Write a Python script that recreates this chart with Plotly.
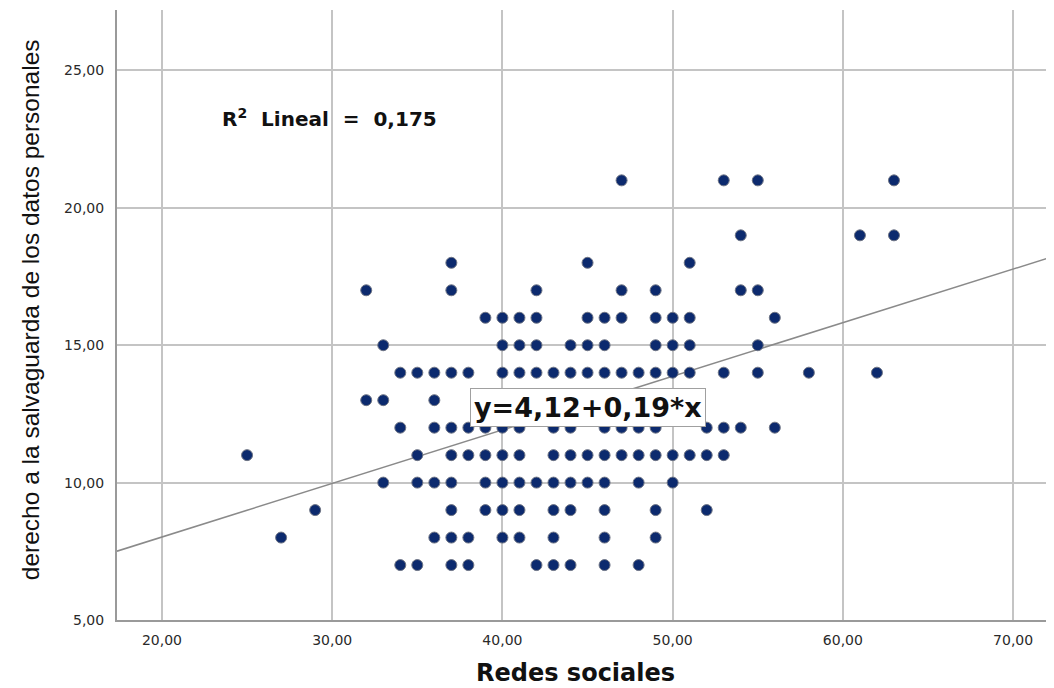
import plotly.graph_objects as go

# Data: each row is a y value, with the x values (Redes sociales) observed at that y
y_levels = [7, 8, 9, 10, 11, 12, 13, 14, 15, 16, 17, 18, 19, 21]
x_at_7 = [34, 35, 37, 38, 42, 43, 44, 46, 48]
x_at_8 = [27, 36, 37, 38, 40, 41, 43, 46, 49]
x_at_9 = [29, 37, 39, 40, 41, 43, 44, 46, 49, 52]
x_at_10 = [33, 35, 36, 37, 39, 40, 41, 42, 43, 44, 45, 46, 48, 50]
x_at_11 = [25, 35, 37, 38, 39, 40, 41, 43, 44, 45, 46, 47, 48, 49, 50, 51, 52, 53]
x_at_12 = [34, 36, 37, 38, 39, 40, 41, 43, 44, 46, 47, 48, 49, 52, 53, 54, 56]
x_at_13 = [32, 33, 36]
x_at_14 = [34, 35, 36, 37, 38, 40, 41, 42, 43, 44, 45, 46, 47, 48, 49, 50, 51, 53, 55, 58, 62]
x_at_15 = [33, 40, 41, 42, 44, 45, 46, 49, 50, 51, 55]
x_at_16 = [39, 40, 41, 42, 45, 46, 47, 49, 50, 51, 56]
x_at_17 = [32, 37, 42, 47, 49, 54, 55]
x_at_18 = [37, 45, 51]
x_at_19 = [54, 61, 63]
x_at_21 = [47, 53, 55, 63]
rows = [x_at_7, x_at_8, x_at_9, x_at_10, x_at_11, x_at_12, x_at_13, x_at_14,
        x_at_15, x_at_16, x_at_17, x_at_18, x_at_19, x_at_21]

x_ticks = [20, 30, 40, 50, 60, 70]
x_tick_labels = ["20,00", "30,00", "40,00", "50,00", "60,00", "70,00"]
y_ticks = [5, 10, 15, 20, 25]
y_tick_labels = ["5,00", "10,00", "15,00", "20,00", "25,00"]

intercept = 4.12
slope = 0.195
x_range = [17.36, 72.4]
y_range = [5, 27.2]

xs, ys = [], []
for yv, row in zip(y_levels, rows):
    for xv in row:
        xs.append(xv)
        ys.append(yv)

fig = go.Figure()
fig.add_trace(go.Scatter(
    x=[x_range[0], x_range[1]],
    y=[intercept + slope * x_range[0], intercept + slope * x_range[1]],
    mode="lines", line=dict(color="#8a8a8a", width=1.5),
    hoverinfo="skip", showlegend=False))
fig.add_trace(go.Scatter(
    x=xs, y=ys, mode="markers",
    marker=dict(size=11, color="#0c2a6e", line=dict(color="#6e7484", width=1)),
    showlegend=False))

axis_font = dict(family="DejaVu Sans, Arial", size=14, color="#2a2a2a")
fig.update_xaxes(range=x_range, tickvals=x_ticks, ticktext=x_tick_labels,
                 showgrid=True, gridcolor="#c4c4c4", gridwidth=1.5,
                 showline=True, linecolor="#9a9a9a", linewidth=2,
                 zeroline=False, tickfont=axis_font, ticks="", ticklabelstandoff=6)
fig.update_yaxes(range=y_range, tickvals=y_ticks, ticktext=y_tick_labels,
                 showgrid=True, gridcolor="#c4c4c4", gridwidth=1.5,
                 showline=True, linecolor="#9a9a9a", linewidth=2,
                 zeroline=False, tickfont=axis_font, ticks="", ticklabelstandoff=8)

fig.add_annotation(text="y=4,12+0,19*x", x=45.0, y=12.72, xref="x", yref="y",
                   showarrow=False, font=dict(family="DejaVu Sans", size=27, color="#111111",
                                              weight="bold"),
                   bgcolor="white", bordercolor="#a0a0a0", borderwidth=1, borderpad=3)
fig.add_annotation(text="R<sup>2</sup>&nbsp; Lineal&nbsp; =&nbsp; 0,175", x=23.41, y=23.28,
                   xref="x", yref="y", xanchor="left", yanchor="middle", showarrow=False,
                   font=dict(family="DejaVu Sans", size=20, color="#111111", weight="bold"))
fig.add_annotation(text="Redes sociales", x=0.4888, y=-0.087, xref="paper", yref="paper",
                   xanchor="center", yanchor="middle", showarrow=False,
                   font=dict(family="DejaVu Sans", size=24, color="#111111", weight="bold"))
fig.add_annotation(text="derecho a la salvaguarda de los datos personales", x=-0.0928, y=0.508,
                   xref="paper", yref="paper", xanchor="center", yanchor="middle",
                   textangle=-90, showarrow=False,
                   font=dict(family="Liberation Sans", size=24.5, color="#111111"))

# The page body adds an 8px offset, so the figure is sized to end at the window edge
fig.update_layout(width=1046, height=680, margin=dict(l=109, r=0, t=2, b=68),
                  plot_bgcolor="white", paper_bgcolor="white")

fig.write_html("out.html")
